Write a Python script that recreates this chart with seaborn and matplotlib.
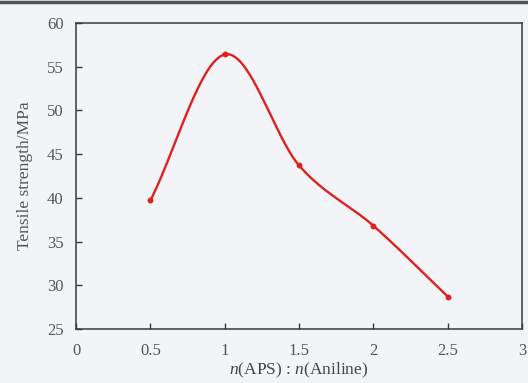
import numpy as np
import pandas as pd
import seaborn as sns
import matplotlib.pyplot as plt
from matplotlib.lines import Line2D

# data
ratio = [0.5, 1.0, 1.5, 2.0, 2.5]
strength = [39.7, 56.4, 43.7, 36.8, 28.7]
x_ticks = [0, 0.5, 1, 1.5, 2, 2.5, 3]
x_tick_labels = ["0", "0.5", "1", "1.5", "2", "2.5", "3"]
y_ticks = [25, 30, 35, 40, 45, 50, 55, 60]

sns.set_style("ticks")
plt.rcParams['font.family'] = ['Liberation Serif', 'DejaVu Serif']
plt.rcParams['mathtext.fontset'] = 'custom'
plt.rcParams['mathtext.it'] = 'Liberation Serif:italic'
plt.rcParams['mathtext.rm'] = 'Liberation Serif'

bg = "#f2f4f8"
red = "#e0201e"
ink = "#3a3a3a"


def catmull_rom(xs, ys, n=40):
    # smooth connecting curve through the measured points (display only)
    xs = np.asarray(xs, float)
    ys = np.asarray(ys, float)
    m = np.gradient(ys, xs)
    out_x, out_y = [], []
    for i in range(len(xs) - 1):
        h = xs[i + 1] - xs[i]
        t = np.linspace(0, 1, n, endpoint=(i == len(xs) - 2))
        h00 = 2 * t**3 - 3 * t**2 + 1
        h10 = t**3 - 2 * t**2 + t
        h01 = -2 * t**3 + 3 * t**2
        h11 = t**3 - t**2
        out_x.append(xs[i] + t * h)
        out_y.append(h00 * ys[i] + h10 * h * m[i] + h01 * ys[i + 1] + h11 * h * m[i + 1])
    return np.concatenate(out_x), np.concatenate(out_y)


sx, sy = catmull_rom(ratio, strength)
curve = pd.DataFrame({"ratio": sx, "strength": sy})
points = pd.DataFrame({"ratio": ratio, "strength": strength})

fig, ax = plt.subplots(figsize=(5.28, 3.83), dpi=100)
fig.patch.set_facecolor(bg)
ax.set_facecolor(bg)

sns.lineplot(data=curve, x="ratio", y="strength", color=red, linewidth=1.7,
             sort=False, ax=ax)
sns.scatterplot(data=points, x="ratio", y="strength", color=red, s=18,
                edgecolor=red, linewidth=0, ax=ax, zorder=3)

ax.set_xlim(0, 3)
ax.set_ylim(25, 60)
ax.set_xticks(x_ticks)
ax.set_xticklabels(x_tick_labels)
ax.set_yticks(y_ticks)
ax.tick_params(direction="in", length=4, width=1, colors=ink, labelsize=12,
               labelcolor="#555555", pad=9)
ax.tick_params(axis="x", pad=10)
for s in ax.spines.values():
    s.set_color(ink)
    s.set_linewidth(1.1)

ax.set_xlabel(r"$n$(APS) : $n$(Aniline)", fontsize=12.5, color="#444444", labelpad=1.5)
ax.set_ylabel("Tensile strength/MPa", fontsize=12.5, color="#555555", labelpad=10)

plt.subplots_adjust(left=0.144, right=0.989, top=0.94, bottom=0.141)
fig.add_artist(Line2D([0, 1], [0.996, 0.996], transform=fig.transFigure,
                      color="#555555", linewidth=2.5))
fig.savefig("out.png", dpi=100, facecolor=bg)
